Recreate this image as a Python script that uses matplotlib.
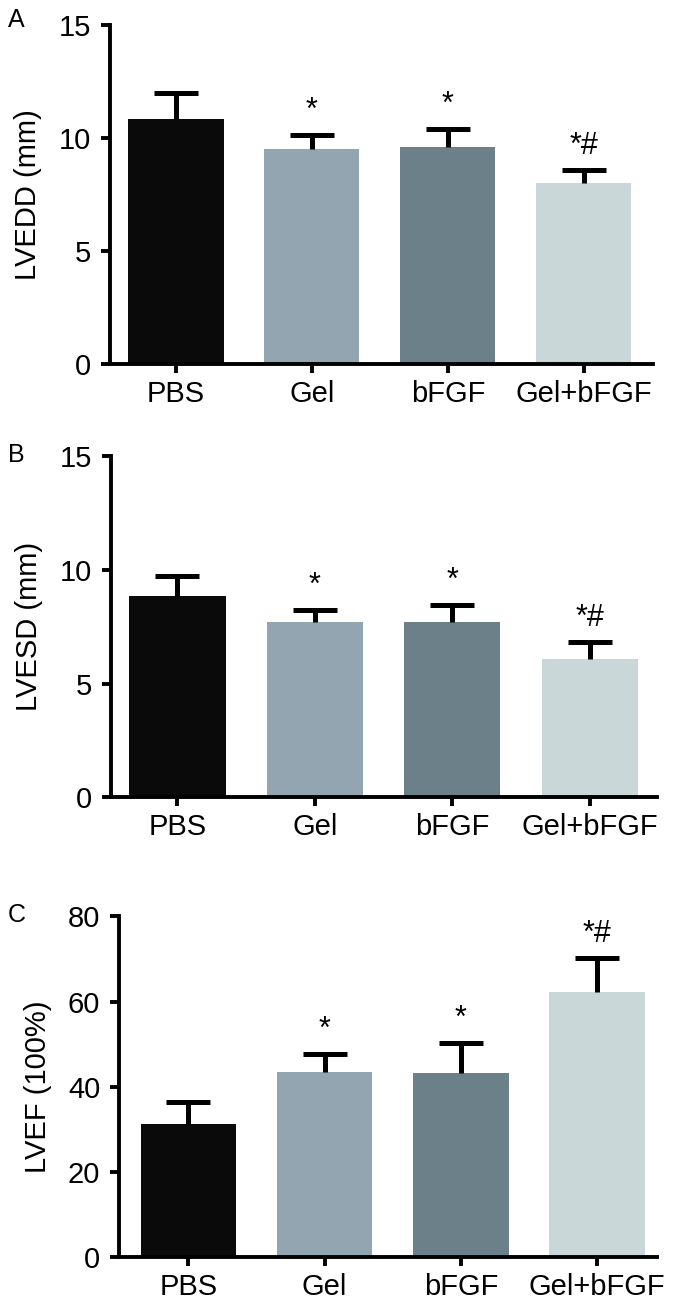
import numpy as np
import matplotlib
matplotlib.use('Agg')
import matplotlib.pyplot as plt

plt.rcParams['font.family'] = ['Liberation Sans', 'DejaVu Sans']

groups = ['PBS', 'Gel', 'bFGF', 'Gel+bFGF']
colors = ['#0a0a0a', '#93a5b0', '#6c8089', '#c9d7d9']
marks = ['', '*', '*', '*#']

lvedd = [10.83, 9.5, 9.6, 8.0]
lvedd_err = [1.15, 0.62, 0.8, 0.57]

lvesd = [8.85, 7.69, 7.72, 6.08]
lvesd_err = [0.88, 0.54, 0.75, 0.73]

lvef = [31.3, 43.5, 43.3, 62.3]
lvef_err = [5.2, 4.2, 7.0, 7.9]

fig = plt.figure(figsize=(6.75, 13.14), dpi=100)

panels = [
    ('A', lvedd, lvedd_err, 'LVEDD (mm)', 15, [0, 5, 10, 15],
     [0.163, 0.7230, 0.804, 0.2580], (-0.485, 3.507), 1 - 8 / 1314),
    ('B', lvesd, lvesd_err, 'LVESD (mm)', 15, [0, 5, 10, 15],
     [0.1644, 0.3932, 0.809, 0.2598], (-0.484, 3.49), 1 - 443 / 1314),
    ('C', lvef, lvef_err, 'LVEF (100%)', 80, [0, 20, 40, 60, 80],
     [0.1763, 0.04315, 0.797, 0.2594], (-0.51, 3.44), 1 - 903 / 1314),
]

lw = 2.8
for letter, vals, errs, ylab, ymax, yt, pos, xl, ly in panels:
    ax = fig.add_axes(pos)
    x = np.arange(len(groups))
    ax.bar(x, vals, width=0.7, color=colors, zorder=2)
    eb = ax.errorbar(x, vals, yerr=[np.zeros(len(errs)), errs], fmt='none',
                     ecolor='black', elinewidth=3.6, capsize=16, capthick=3.6, zorder=3)
    # only the upper cap is drawn
    eb[1][0].set_visible(False)
    for i in range(len(groups)):
        if marks[i]:
            ax.annotate(marks[i], xy=(x[i], vals[i] + errs[i]), xytext=(0, 11.5),
                        textcoords='offset points', ha='center', va='baseline',
                        fontsize=22)
    ax.set_xlim(*xl)
    ax.set_ylim(0, ymax)
    ax.set_yticks(yt)
    ax.set_xticks(x)
    ax.set_xticklabels(groups)
    for s in ['top', 'right']:
        ax.spines[s].set_visible(False)
    for s in ['left', 'bottom']:
        ax.spines[s].set_linewidth(lw)
    ax.tick_params(axis='both', width=lw, length=6.5)
    ax.tick_params(axis='x', labelsize=21, pad=5)
    ax.tick_params(axis='y', labelsize=21, pad=7)
    ax.set_ylabel(ylab, fontsize=21)
    ax.yaxis.set_label_coords(-0.125, 0.5)
    fig.text(8 / 675, ly, letter, fontsize=18, va='top', ha='left')

fig.savefig('out.png', dpi=100)
